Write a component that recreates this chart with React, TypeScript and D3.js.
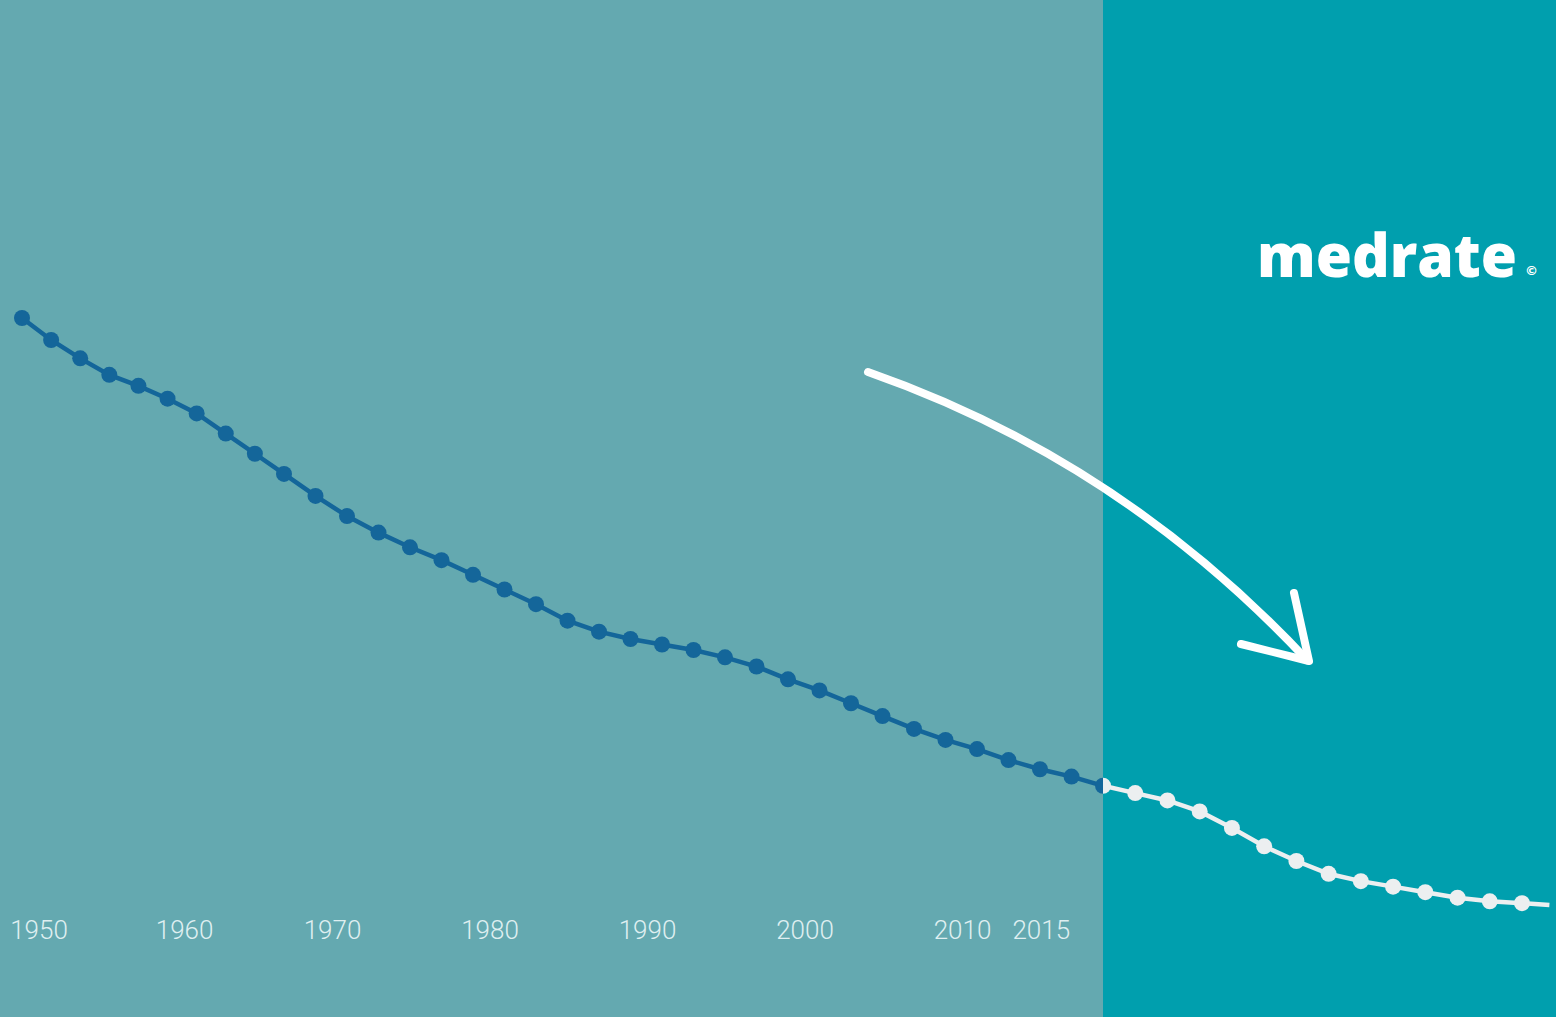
import { useEffect } from 'react';
import * as d3 from 'd3';

// Total fertility rate, two-year steps; the final point is cut by the frame (no marker)
const years = [
  1950, 1952, 1954, 1956, 1958, 1960, 1962, 1964, 1966, 1968,
  1970, 1972, 1974, 1976, 1978, 1980, 1982, 1984, 1986, 1988,
  1990, 1992, 1994, 1996, 1998, 2000, 2002, 2004, 2006, 2008,
  2010, 2012, 2014, 2016, 2018, 2020, 2022, 2024, 2026, 2028,
  2030, 2032, 2034, 2036, 2038, 2040, 2042, 2044, 2046, 2047.7
];
const rates = [
  5.0, 4.88, 4.78, 4.69, 4.63, 4.56, 4.48, 4.37, 4.26, 4.15,
  4.03, 3.92, 3.83, 3.75, 3.68, 3.6, 3.52, 3.44, 3.35, 3.29,
  3.25, 3.22, 3.19, 3.15, 3.1, 3.03, 2.97, 2.9, 2.83, 2.76,
  2.7, 2.65, 2.59, 2.54, 2.5, 2.45, 2.41, 2.37, 2.31, 2.22,
  2.12, 2.04, 1.97, 1.93, 1.9, 1.87, 1.84, 1.82, 1.81, 1.8
];
const tickYears = [1950, 1960, 1970, 1980, 1990, 2000, 2010, 2015];
const projectionStart = 2020;

const WIDTH = 1556;
const HEIGHT = 1017;

type Point = { year: number; rate: number };
const data: Point[] = years.map((year, i) => ({ year, rate: rates[i] }));
const markers = data.slice(0, -1);

// the source stretches the early decades a little less, so the x scale is piecewise
const xScale = d3
  .scaleLinear()
  .domain([1950, 1968, 2020, 2046])
  .range([22, 284, 1103, 1522]);

const yScale = d3.scaleLinear().domain([1.8, 5.0]).range([905, 318]);

const line = d3
  .line<Point>()
  .x((d) => xScale(d.year))
  .y((d) => yScale(d.rate))
  .curve(d3.curveLinear);

const split = xScale(projectionStart);

export default function App() {
  useEffect(() => {
    document.body.style.margin = '0';
  }, []);

  const arrowStart: [number, number] = [868, 372];
  const arrowCtrl: [number, number] = [1120, 460];
  const arrowEnd: [number, number] = [1307, 660];
  const arrowPath = d3.path();
  arrowPath.moveTo(...arrowStart);
  arrowPath.quadraticCurveTo(...arrowCtrl, ...arrowEnd);

  return (
    <svg width={WIDTH} height={HEIGHT} style={{ display: 'block' }}>
      <defs>
        <clipPath id="past">
          <rect x={0} y={0} width={split} height={HEIGHT} />
        </clipPath>
        <clipPath id="future">
          <rect x={split} y={0} width={WIDTH - split} height={HEIGHT} />
        </clipPath>
      </defs>

      <rect x={0} y={0} width={split} height={HEIGHT} fill="#64a9b0" />
      <rect x={split} y={0} width={WIDTH - split} height={HEIGHT} fill="#009fae" />

      {/* history */}
      <g clipPath="url(#past)">
        <path d={line(data) ?? ''} fill="none" stroke="#14669a" strokeWidth={4.5} />
        {markers.map((d) => (
          <circle key={d.year} cx={xScale(d.year)} cy={yScale(d.rate)} r={8} fill="#14669a" />
        ))}
      </g>

      {/* projection */}
      <g clipPath="url(#future)">
        <path d={line(data) ?? ''} fill="none" stroke="#eceff0" strokeWidth={4.5} />
        {markers.map((d) => (
          <circle key={d.year} cx={xScale(d.year)} cy={yScale(d.rate)} r={8} fill="#eceff0" />
        ))}
      </g>

      {/* year labels */}
      <g
        fontFamily="Roboto, 'Liberation Sans', Arial, sans-serif"
        fontWeight={300}
        fontSize={26}
        fill="#dfeff1"
        textAnchor="middle"
      >
        {tickYears.map((y) => (
          <text key={y} x={xScale(y) + 17} y={939}>
            {y}
          </text>
        ))}
      </g>

      {/* trend arrow */}
      <g fill="none" stroke="#ffffff" strokeWidth={8} strokeLinecap="round" strokeLinejoin="round">
        <path d={arrowPath.toString()} />
        <path d={`M1294,593 L${arrowEnd[0] + 2},${arrowEnd[1] + 1} L1241,644`} />
      </g>

      {/* logo */}
      <text
        x={1257}
        y={277}
        fontFamily="'Open Sans', Lato, 'DejaVu Sans', sans-serif"
        fontWeight={800}
        fontSize={61}
        fill="#ffffff"
        textLength={260}
        lengthAdjust="spacingAndGlyphs"
      >
        medrate
      </text>
      <text
        x={1525}
        y={275}
        fontFamily="'DejaVu Sans', sans-serif"
        fontWeight={700}
        fontSize={13}
        fill="#ffffff"
      >
        ©
      </text>
    </svg>
  );
}
